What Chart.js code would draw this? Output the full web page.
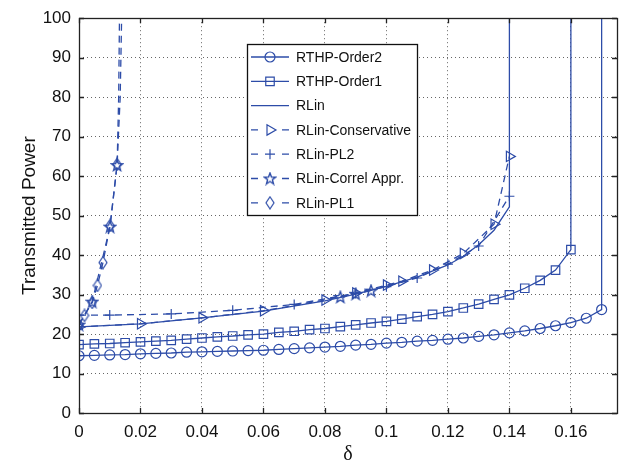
<!DOCTYPE html>
<html>
<head>
<meta charset="utf-8">
<script src="https://cdn.jsdelivr.net/npm/chart.js@4"></script>
<style>
  html, body { margin: 0; padding: 0; background: #fff; }
</style>
</head>
<body>
<canvas id="chart" width="627" height="474"></canvas>
<script>
// ---- data ----
const xOrder2 = [0, 0.005, 0.01, 0.015, 0.02, 0.025, 0.03, 0.035, 0.04, 0.045, 0.05, 0.055, 0.06, 0.065, 0.07, 0.075, 0.08, 0.085,
  0.09, 0.095, 0.1, 0.105, 0.11, 0.115, 0.12, 0.125, 0.13, 0.135, 0.14, 0.145, 0.15, 0.155, 0.16, 0.165, 0.17, 0.17];
const yOrder2 = [14.5, 14.6, 14.7, 14.8, 15.0, 15.1, 15.2, 15.4, 15.5, 15.6, 15.7, 15.8, 15.9, 16.1, 16.3, 16.5, 16.7, 16.9,
  17.2, 17.4, 17.7, 17.9, 18.2, 18.4, 18.7, 19.0, 19.4, 19.8, 20.3, 20.8, 21.4, 22.1, 22.9, 24.0, 26.2, 110];

const xOrder1 = [0, 0.005, 0.01, 0.015, 0.02, 0.025, 0.03, 0.035, 0.04, 0.045, 0.05, 0.055, 0.06, 0.065, 0.07, 0.075, 0.08, 0.085,
  0.09, 0.095, 0.1, 0.105, 0.11, 0.115, 0.12, 0.125, 0.13, 0.135, 0.14, 0.145, 0.15, 0.155, 0.16, 0.16];
const yOrder1 = [17.3, 17.5, 17.6, 17.8, 18.0, 18.2, 18.4, 18.7, 19.0, 19.3, 19.5, 19.8, 20.0, 20.4, 20.7, 21.1, 21.4, 21.9,
  22.3, 22.8, 23.2, 23.8, 24.4, 25.0, 25.7, 26.6, 27.6, 28.8, 29.9, 31.6, 33.6, 36.2, 41.4, 110];

const xRLin = [0, 0.02, 0.04, 0.06, 0.08, 0.09, 0.1, 0.11, 0.12, 0.125, 0.13, 0.135, 0.14, 0.14];
const yRLin = [21.8, 22.6, 24.1, 25.8, 28.4, 30.1, 32.1, 34.4, 37.5, 39.7, 42.6, 46.3, 52.2, 110];

const xCons = [0, 0.02, 0.04, 0.06, 0.08, 0.09, 0.1, 0.105, 0.115, 0.125, 0.135, 0.14];
const yCons = [21.8, 22.6, 24.1, 25.9, 28.6, 30.4, 32.4, 33.4, 36.2, 40.4, 47.8, 65];

const xPL2 = [0, 0.01, 0.03, 0.05, 0.07, 0.09, 0.1, 0.11, 0.12, 0.13, 0.14];
const yPL2 = [24.8, 24.8, 25.1, 26.0, 27.5, 30.3, 32.0, 34.2, 37.7, 42.3, 54.9];

const xCorrel = [0, 0.0043, 0.0101, 0.0124, 0.0129, 0.0133, 0.05, 0.085, 0.09, 0.095];
const yCorrel = [22.4, 28.2, 47.2, 62.8, 80, 110, null, 29.4, 30.2, 31.0];

const xPL1 = [0, 0.0018, 0.0043, 0.006, 0.0078, 0.0101, 0.0124, 0.0134, 0.0141];
const yPL1 = [22.4, 24.7, 28.0, 32.3, 38.1, 47.5, 63.0, 80, 110];

const labels = ['RTHP-Order2', 'RTHP-Order1', 'RLin', 'RLin-Conservative', 'RLin-PL2', 'RLin-Correl Appr.', 'RLin-PL1'];
const xTicks = [0, 0.02, 0.04, 0.06, 0.08, 0.1, 0.12, 0.14, 0.16];

const blue = '#2d4ca8';

function pts(xs, ys) {
  return xs.map((x, i) => ({ x: x, y: ys[i] }));
}

// matlab-like pentagram and tall diamond markers
function makeStar(size) {
  let c = document.createElement('canvas');
  c.width = size; c.height = size;
  let g = c.getContext('2d');
  let cx = size / 2, cy = size / 2 + 0.5, R = size / 2 - 1, r = R * 0.42;
  g.beginPath();
  for (let i = 0; i < 10; i++) {
    let a = -Math.PI / 2 + i * Math.PI / 5;
    let rr = i % 2 ? r : R;
    g.lineTo(cx + rr * Math.cos(a), cy + rr * Math.sin(a));
  }
  g.closePath();
  g.strokeStyle = blue; g.lineWidth = 1.4;
  g.stroke();
  return c;
}
function makeDiamond(w, h) {
  let c = document.createElement('canvas');
  c.width = w; c.height = h;
  let g = c.getContext('2d');
  g.beginPath();
  g.moveTo(w / 2, 1); g.lineTo(w - 1, h / 2); g.lineTo(w / 2, h - 1); g.lineTo(1, h / 2);
  g.closePath();
  g.strokeStyle = blue; g.lineWidth = 1.2;
  g.stroke();
  return c;
}
const starImg = makeStar(14);
const diamondImg = makeDiamond(10, 14);

const markerRadius = ctx => (ctx.raw && ctx.raw.y > 66 ? 0 : ctx.dataset.markSize);

function series(label, data, style, size, dash, rot) {
  return {
    label: label,
    data: data,
    borderColor: blue,
    backgroundColor: 'rgba(0,0,0,0)',
    borderWidth: 1.3,
    borderDash: dash,
    pointStyle: style,
    pointRotation: rot || 0,
    markSize: size,
    pointRadius: style ? markerRadius : 0,
    pointBorderWidth: 1.2,
    pointBorderColor: blue,
    pointBackgroundColor: 'rgba(0,0,0,0)',
    tension: 0,
    spanGaps: false
  };
}

const dsh = [7, 5];
const datasets = [
  series(labels[0], pts(xOrder2, yOrder2), 'circle', 5, [], 0),
  series(labels[1], pts(xOrder1, yOrder1), 'rect', 6, [], 0),
  series(labels[2], pts(xRLin, yRLin), false, 0, [], 0),
  series(labels[3], pts(xCons, yCons), 'triangle', 6, dsh, 90),
  series(labels[4], pts(xPL2, yPL2), 'cross', 5, dsh, 0),
  series(labels[5], pts(xCorrel, yCorrel), starImg, 5, dsh, 0),
  series(labels[6], pts(xPL1, yPL1), diamondImg, 5, dsh, 0)
];

const boxPlugin = {
  id: 'box',
  afterDraw(chart) {
    const { ctx, chartArea: a, scales } = chart;
    const x = scales.x, y = scales.y;
    ctx.save();
    ctx.setLineDash([]);
    ctx.strokeStyle = '#222';
    ctx.lineWidth = 1.3;
    ctx.beginPath();
    x.ticks.forEach(t => {
      const px = Math.round(x.getPixelForValue(t.value)) + 0.5;
      ctx.moveTo(px, a.bottom); ctx.lineTo(px, a.bottom - 5);
      ctx.moveTo(px, a.top); ctx.lineTo(px, a.top + 5);
    });
    y.ticks.forEach(t => {
      const py = Math.round(y.getPixelForValue(t.value)) + 0.5;
      ctx.moveTo(a.left, py); ctx.lineTo(a.left + 5, py);
      ctx.moveTo(a.right, py); ctx.lineTo(a.right - 5, py);
    });
    ctx.stroke();
    ctx.strokeRect(Math.round(a.left) + 0.5, Math.round(a.top) + 0.5,
      Math.round(a.right - a.left), Math.round(a.bottom - a.top));

    // legend
    const lx = 247, ly = 44, lw = 170, lh = 171;
    ctx.fillStyle = '#fff';
    ctx.fillRect(lx, ly, lw, lh);
    ctx.strokeStyle = '#111';
    ctx.lineWidth = 1.3;
    ctx.strokeRect(lx + 0.5, ly + 0.5, lw, lh);
    ctx.font = '14px "Liberation Sans", Arial, sans-serif';
    ctx.textBaseline = 'middle';
    chart.data.datasets.forEach((ds, i) => {
      const yy = 57 + i * 24.3;
      ctx.strokeStyle = blue;
      ctx.lineWidth = 1.3;
      ctx.setLineDash([]);
      ctx.beginPath();
      if (ds.borderDash.length) {
        ctx.moveTo(251, yy); ctx.lineTo(258, yy);
        ctx.moveTo(282, yy); ctx.lineTo(289, yy);
      } else {
        ctx.moveTo(251, yy); ctx.lineTo(289, yy);
      }
      ctx.stroke();
      if (ds.pointStyle) {
        ctx.fillStyle = 'rgba(0,0,0,0)';
        ctx.lineWidth = 1.2;
        Chart.helpers.drawPoint(ctx, {
          pointStyle: ds.pointStyle, rotation: ds.pointRotation,
          radius: ds.markSize, borderWidth: 1.2
        }, 270, yy);
      }
      ctx.fillStyle = '#111';
      ctx.fillText(ds.label, 296, yy + 1);
    });
    ctx.restore();
  }
};

const tickFont = { family: '"Liberation Sans", Arial, sans-serif', size: 17 };

new Chart(document.getElementById('chart'), {
  type: 'line',
  data: { datasets: datasets },
  options: {
    responsive: false,
    animation: false,
    events: [],
    layout: { padding: { left: 0, top: 10, right: 10, bottom: 0 } },
    plugins: { legend: { display: false }, tooltip: { enabled: false } },
    scales: {
      x: {
        type: 'linear',
        min: 0, max: 0.175,
        afterBuildTicks: s => { s.ticks = xTicks.map(v => ({ value: v })); },
        afterFit: s => { s.height = 61; },
        ticks: {
          padding: 9, color: '#111', font: tickFont,
          callback: v => String(Math.round(v * 100) / 100)
        },
        grid: { color: '#666', lineWidth: 1, drawTicks: false },
        border: { display: false, dash: [1, 3] },
        title: {
          display: true, text: 'δ', color: '#111',
          font: { family: '"Liberation Serif", "DejaVu Serif", serif', size: 20 },
          padding: { top: 0, bottom: 7 }
        }
      },
      y: {
        min: 0, max: 100,
        afterFit: s => { s.width = 79; },
        ticks: { stepSize: 10, padding: 8, color: '#111', font: tickFont },
        grid: { color: '#666', lineWidth: 1, drawTicks: false },
        border: { display: false, dash: [1, 3] },
        title: {
          display: true, text: 'Transmitted Power', color: '#111',
          font: { family: '"Liberation Sans", Arial, sans-serif', size: 19 },
          padding: { top: 18, bottom: 0 }
        }
      }
    }
  },
  plugins: [boxPlugin]
});
</script>
</body>
</html>
